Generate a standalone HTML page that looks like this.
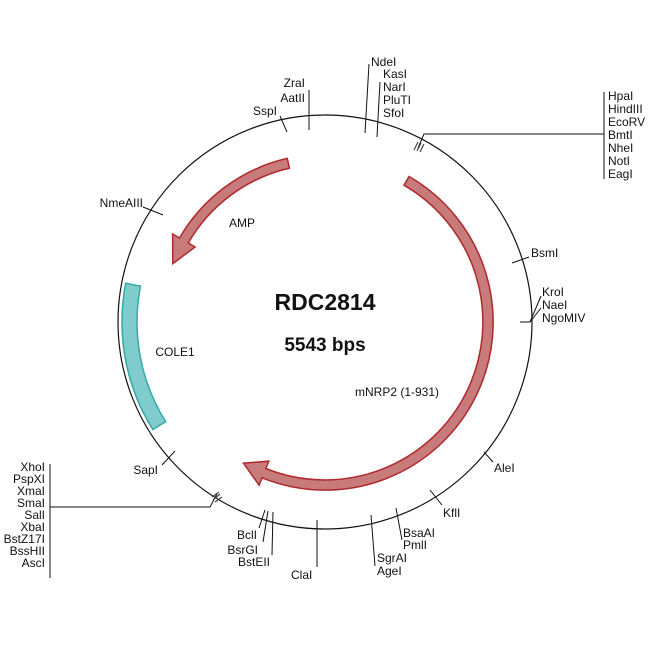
<!DOCTYPE html>
<html><head><meta charset="utf-8"><style>
html,body{margin:0;padding:0;background:#fff}
svg{display:block}
text{font-family:"Liberation Sans",Arial,sans-serif;font-size:12px;fill:#111}
</style></head><body>
<svg width="650" height="650" viewBox="0 0 650 650" xmlns="http://www.w3.org/2000/svg">
<circle cx="325" cy="322" r="207" fill="none" stroke="#111" stroke-width="1.2"/>
<!-- COLE1 -->
<path d="M125.7,283.2 A203,203 0 0 0 152.9,429.6 L165.6,421.6 A188,188 0 0 1 140.5,286.1 Z" fill="#80cccc" stroke="#35a8a8" stroke-width="1.5"/>
<!-- AMP -->
<path d="M287.2,158.4 A168,168 0 0 0 179.5,238 L172.6,234 L172.8,263.6 L195.1,247 L188.2,243 A158,158 0 0 1 289.5,168.1 Z" fill="#c77b7b" stroke="#b0282c" stroke-width="1.5"/>
<!-- mNRP2 -->
<path d="M409,176.5 A168,168 0 0 1 262.1,477.8 L259.1,485.2 L243.5,463.2 L268.8,461.1 L265.8,468.5 A158,158 0 0 0 404,185.2 Z" fill="#c77b7b" stroke="#b0282c" stroke-width="1.5"/>

<g stroke="#111" stroke-width="1" fill="none">
<line x1="287" y1="132" x2="280" y2="116"/>
<line x1="309" y1="130" x2="309" y2="90"/>
<line x1="365" y1="133" x2="369" y2="64"/>
<line x1="377" y1="137" x2="380" y2="82"/>
<polyline points="418,148 424,134 604,134"/>
<line x1="604" y1="92" x2="604" y2="179"/>
<line x1="512" y1="263" x2="529" y2="257"/>
<polyline points="520,322 530,322 541,296"/>
<line x1="530" y1="322" x2="541" y2="308"/>
<line x1="484" y1="452" x2="493" y2="462"/>
<line x1="430" y1="490" x2="442" y2="505"/>
<line x1="396" y1="508" x2="402" y2="540"/>
<line x1="371" y1="515" x2="375" y2="566"/>
<line x1="317" y1="520" x2="317" y2="567"/>
<line x1="273" y1="512" x2="272" y2="555"/>
<line x1="268" y1="511" x2="263" y2="542"/>
<line x1="265" y1="510" x2="259" y2="528"/>
<polyline points="217,494 210,507 50,507"/>
<line x1="50" y1="464" x2="50" y2="578"/>
<line x1="162" y1="465" x2="175" y2="451"/>
<line x1="143" y1="207" x2="163" y2="215"/>
</g>
<g stroke="#444" stroke-width="1.2">
<line x1="414" y1="150" x2="418" y2="142"/><line x1="417" y1="151" x2="421" y2="143"/><line x1="420" y1="152" x2="424" y2="144"/>
<line x1="212" y1="497" x2="219" y2="492"/><line x1="213" y1="500" x2="220" y2="494"/><line x1="215" y1="502" x2="222" y2="497"/>
</g>

<g text-anchor="end">
<text x="277" y="115">SspI</text>
<text x="305" y="87">ZraI</text>
<text x="305" y="102">AatII</text>
<text x="143" y="207">NmeAIII</text>
<text x="158" y="474">SapI</text>
<text x="45" y="471">XhoI</text>
<text x="45" y="483">PspXI</text>
<text x="45" y="495">XmaI</text>
<text x="45" y="507">SmaI</text>
<text x="45" y="519">SalI</text>
<text x="45" y="531">XbaI</text>
<text x="45" y="543">BstZ17I</text>
<text x="45" y="555">BssHII</text>
<text x="45" y="567">AscI</text>
<text x="257" y="539">BclI</text>
<text x="258" y="554">BsrGI</text>
<text x="270" y="566">BstEII</text>
</g>
<text x="371" y="66">NdeI</text>
<text x="383" y="78">KasI</text>
<text x="383" y="91">NarI</text>
<text x="383" y="104">PluTI</text>
<text x="383" y="117">SfoI</text>
<text x="608" y="100">HpaI</text>
<text x="608" y="113">HindIII</text>
<text x="608" y="126">EcoRV</text>
<text x="608" y="139">BmtI</text>
<text x="608" y="152">NheI</text>
<text x="608" y="165">NotI</text>
<text x="608" y="178">EagI</text>
<text x="531" y="257">BsmI</text>
<text x="542" y="296">KroI</text>
<text x="542" y="309">NaeI</text>
<text x="542" y="322">NgoMIV</text>
<text x="494" y="472">AleI</text>
<text x="443" y="517">KflI</text>
<text x="403" y="537">BsaAI</text>
<text x="403" y="549">PmlI</text>
<text x="377" y="562">SgrAI</text>
<text x="377" y="575">AgeI</text>
<text x="291" y="579">ClaI</text>
<text x="242" y="227" text-anchor="middle">AMP</text>
<text x="175" y="356" text-anchor="middle">COLE1</text>
<text x="397" y="396" text-anchor="middle">mNRP2 (1-931)</text>
<text x="325" y="310" text-anchor="middle" style="font-size:23px;font-weight:bold">RDC2814</text>
<text x="325" y="351" text-anchor="middle" style="font-size:19px;font-weight:bold">5543 bps</text>
</svg>
</body></html>
